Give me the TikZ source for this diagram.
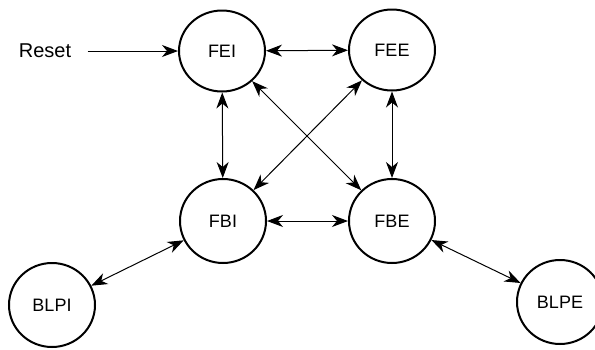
\documentclass[tikz,border=0pt]{standalone}
\usepackage{fontspec}
\setmainfont{Liberation Sans}
\usetikzlibrary{shapes.geometric,arrows.meta}

\begin{document}
\begin{tikzpicture}[x=0.5pt,y=-0.5pt,font=\fontsize{9}{11}\selectfont,
 st/.style={draw,ellipse,line width=1pt,minimum width=43pt,minimum height=40.5pt,inner sep=0pt},
 tr/.style={{Stealth[length=8pt,width=6pt,inset=2.5pt]}-{Stealth[length=8pt,width=6pt,inset=2.5pt]},line width=0.5pt},
 ent/.style={-{Stealth[length=8pt,width=6pt,inset=2.5pt]},line width=0.5pt}]
\useasboundingbox (0,0) rectangle (595,349);
\node[st] (fei) at (222,51) {FEI};
\node[st] (fee) at (392,50) {FEE};
\node[st,minimum height=42pt] (fbi) at (223,221) {FBI};
\node[st,minimum height=42pt] (fbe) at (392,221) {FBE};
\node[st,minimum height=42pt] (blpi) at (52,305) {BLPI};
\node[st,minimum height=42pt] (blpe) at (560,302) {BLPE};
\node[font=\fontsize{10}{12}\selectfont,inner sep=0pt] (rst) at (45,51) {Reset};
\draw[ent,shorten <=8pt] (rst.east) -- (fei);
\draw[tr] (fei) -- (fee);
\draw[tr] (fei) -- (fbi);
\draw[tr] (fee) -- (fbe);
\draw[tr] (fbi) -- (fbe);
\draw[tr] (fei) -- (fbe);
\draw[tr] (fee) -- (fbi);
\draw[tr] (blpi) -- (fbi);
\draw[tr] (fbe) -- (blpe);
\end{tikzpicture}
\end{document}
